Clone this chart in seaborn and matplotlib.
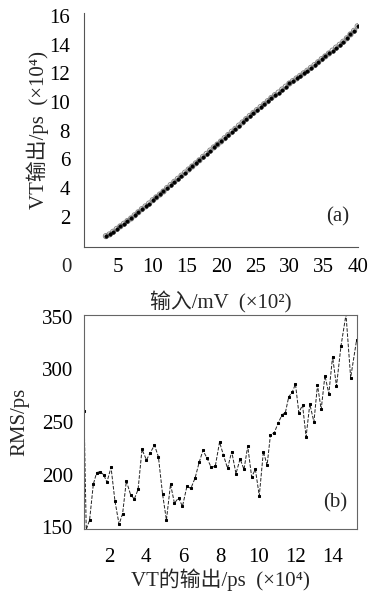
import matplotlib
matplotlib.use("Agg")
import matplotlib.pyplot as plt
import seaborn as sns

# (a) input (x10^2 mV) vs VT output (x10^4 ps)
input_mv = [3.2, 3.73, 4.25, 4.78, 5.3, 5.83, 6.35, 6.88, 7.4, 7.93, 8.45, 8.98, 9.5, 10.03,
            10.55, 11.08, 11.6, 12.13, 12.65, 13.18, 13.7, 14.23, 14.75, 15.28, 15.8, 16.33,
            16.85, 17.38, 17.9, 18.43, 18.95, 19.48, 20.0, 20.53, 21.05, 21.58, 22.1, 22.63,
            23.15, 23.68, 24.2, 24.73, 25.25, 25.78, 26.3, 26.83, 27.35, 27.88, 28.4, 28.93,
            29.45, 29.98, 30.5, 31.03, 31.55, 32.08, 32.6, 33.13, 33.65, 34.18, 34.7, 35.23,
            35.75, 36.28, 36.8, 37.33, 37.85, 38.38, 38.9, 39.43, 39.95]
vt_out = [0.66, 0.78, 0.96, 1.16, 1.34, 1.52, 1.71, 1.89, 2.11, 2.32, 2.54, 2.73, 2.93, 3.16,
          3.36, 3.56, 3.77, 4.01, 4.22, 4.44, 4.65, 4.87, 5.08, 5.30, 5.51, 5.73, 5.94, 6.18,
          6.39, 6.62, 6.84, 7.04, 7.25, 7.48, 7.70, 7.93, 8.13, 8.36, 8.58, 8.81, 9.03, 9.24,
          9.44, 9.65, 9.85, 10.06, 10.28, 10.48, 10.66, 10.87, 11.07, 11.29, 11.46, 11.64,
          11.82, 12.00, 12.18, 12.38, 12.57, 12.77, 12.99, 13.18, 13.38, 13.58, 13.79, 13.99,
          14.20, 14.44, 14.71, 14.96, 15.28]

# (b) RMS (ps) at each VT output
rms = [260, 148, 157, 191, 202, 203, 200, 193, 207, 175, 153, 163, 194, 181, 177, 186,
       224, 214, 221, 228, 217, 182, 157, 191, 173, 178, 170, 189, 187, 197, 212, 223,
       216, 207, 208, 231, 219, 206, 222, 201, 215, 205, 227, 198, 205, 180, 222, 209,
       238, 240, 249, 257, 259, 274, 278, 286, 259, 266, 236, 267, 250, 285, 262, 294,
       277, 312, 284, 322, 352, 292, 328]

xticks_a = [5, 10, 15, 20, 25, 30, 35, 40]
yticks_a = [2, 4, 6, 8, 10, 12, 14, 16]
xticks_b = [2, 4, 6, 8, 10, 12, 14]
yticks_b = [150, 200, 250, 300, 350]

sns.set_style("white")
plt.rcParams["font.family"] = ["Liberation Serif", "Noto Sans CJK SC"]
plt.rcParams["axes.unicode_minus"] = False

W, H = 369, 593
FS = 15
fig = plt.figure(figsize=(W / 100, H / 100), dpi=100)

# top panel
ax1 = fig.add_axes([84 / W, 1 - 247 / H, (358 - 84) / W, (247 - 13) / H])
sns.scatterplot(x=input_mv, y=vt_out, ax=ax1, marker="o", s=14, facecolor="none",
                edgecolor="#888888", linewidth=0.7)
sns.scatterplot(x=input_mv, y=vt_out, ax=ax1, marker="o", s=7, color="black",
                edgecolor="black", linewidth=0.3)
ax1.set_xlim(0, 40)
ax1.set_ylim(-0.1, 16.2)
ax1.set_xticks(xticks_a)
ax1.set_yticks(yticks_a)
ax1.tick_params(direction="in", length=3, width=0.8, colors="#555555", labelcolor="black",
                labelsize=FS)
ax1.tick_params(axis="x", pad=8)
ax1.tick_params(axis="y", pad=10)
for s in ["top", "right"]:
    ax1.spines[s].set_visible(False)
for s in ["left", "bottom"]:
    ax1.spines[s].set_color("#555555")
    ax1.spines[s].set_linewidth(0.8)
ax1.set_xlabel("输入/mV  (×10²)", fontsize=FS, labelpad=10)
ax1.set_ylabel("VT输出/ps  (×10⁴)", fontsize=FS, labelpad=0)
ax1.text(0.925, 0.13, "(a)", transform=ax1.transAxes, fontsize=FS, ha="center", va="center")
fig.text(66.5 / W, 1 - 267 / H, "0", fontsize=FS, ha="center", va="center")

# bottom panel
ax2 = fig.add_axes([84 / W, 1 - 529 / H, (357 - 84) / W, (529 - 315) / H])
sns.lineplot(x=vt_out, y=rms, ax=ax2, color="#222222", linestyle="--", linewidth=0.7,
             marker="s", markersize=1.8, markeredgecolor="black", markerfacecolor="black")
ax2.set_xlim(0.66, 15.3)
ax2.set_ylim(148.5, 351.5)
ax2.set_xticks(xticks_b)
ax2.set_yticks(yticks_b)
ax2.tick_params(direction="in", length=3, width=0.8, colors="#555555", labelcolor="black",
                labelsize=FS)
ax2.tick_params(axis="x", pad=14)
ax2.tick_params(axis="y", pad=8)
for s in ax2.spines.values():
    s.set_color("#666666")
    s.set_linewidth(0.8)
ax2.set_xlabel("VT的输出/ps  (×10⁴)", fontsize=FS, labelpad=1)
ax2.set_ylabel("RMS/ps", fontsize=FS, labelpad=9)
ax2.text(0.92, 0.12, "(b)", transform=ax2.transAxes, fontsize=FS, ha="center", va="center")

fig.savefig("out.png", dpi=100)
